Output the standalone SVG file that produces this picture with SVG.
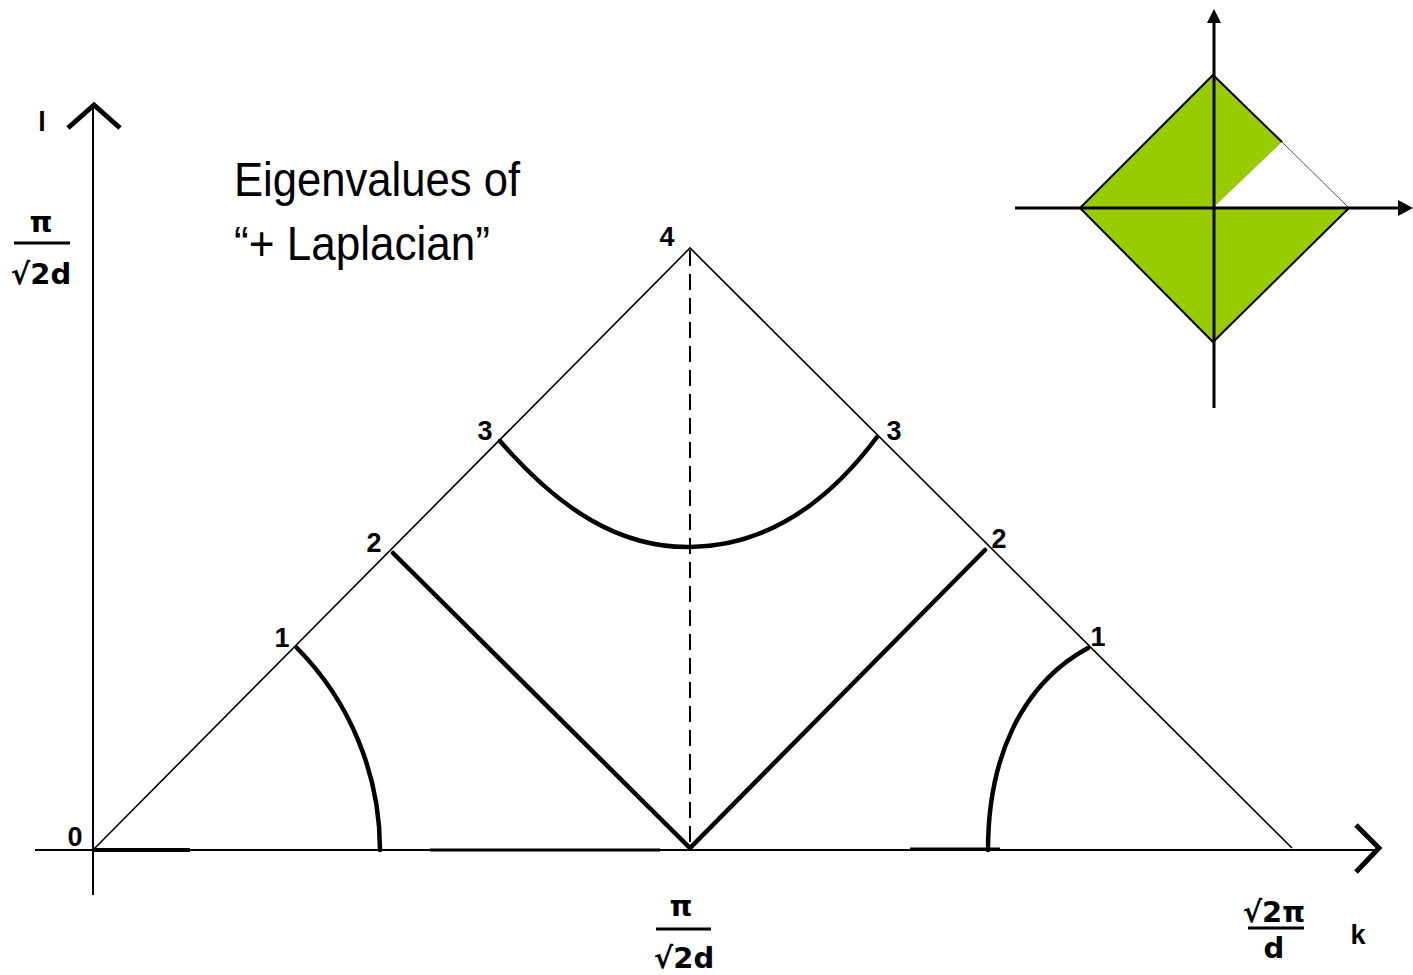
<svg xmlns="http://www.w3.org/2000/svg" width="1413" height="975" viewBox="0 0 1413 975">
<style>
.thin{stroke:#000;stroke-width:1.6;fill:none}
.thick{stroke:#000;stroke-width:4.5;fill:none;stroke-linecap:round}
.ax{stroke:#000;stroke-width:2;fill:none}
.chev{stroke:#000;stroke-width:5;fill:none;stroke-linejoin:miter}
.lbl{font-family:"Liberation Sans",Arial,sans-serif;font-weight:bold;font-size:27px;fill:#000}
.title{font-family:"Liberation Sans",Arial,sans-serif;font-size:48px;fill:#000}
.frac{font-family:"DejaVu Sans",sans-serif;font-weight:bold;font-size:29px;fill:#000}
.g{fill:#99CC00}
</style>
<rect width="1413" height="975" fill="#fff"/>

<g id="axes">
<line class="ax" x1="93" y1="104" x2="93" y2="895"/>
<polyline class="chev" points="68,128 94,105 120,128"/>
<line class="ax" x1="35" y1="850" x2="1378" y2="850"/>
<line stroke="#000" stroke-width="4" x1="93" y1="850" x2="190" y2="850"/>
<line stroke="#000" stroke-width="3" x1="430" y1="850" x2="660" y2="850"/>
<line stroke="#000" stroke-width="3" x1="910" y1="849" x2="1000" y2="849"/>
<polyline class="chev" points="1356,825 1379,848 1356,872"/>
</g>

<g id="connectors">
<polyline class="thin" points="93,850 690,248 1292,848"/>
<line x1="690" y1="250" x2="690" y2="848" stroke="#000" stroke-width="2" stroke-dasharray="16,8"/>
<path class="thick" d="M297,648 A287,287 0 0 1 380,850"/>
<path class="thick" d="M1088,648 C1020,685 988,760 988,850"/>
<path class="thick" d="M393,553 L690,848 L985,550"/>
<path class="thick" d="M500,441 C560,510 620,548 690,547 C770,546 830,500 877,437"/>
</g>

<g id="labels">
<text class="lbl" x="75" y="846" text-anchor="middle">0</text>
<text class="lbl" x="282" y="647" text-anchor="middle">1</text>
<text class="lbl" x="374" y="552" text-anchor="middle">2</text>
<text class="lbl" x="485" y="440" text-anchor="middle">3</text>
<text class="lbl" x="667" y="246" text-anchor="middle">4</text>
<text class="lbl" x="894" y="440" text-anchor="middle">3</text>
<text class="lbl" x="999" y="548" text-anchor="middle">2</text>
<text class="lbl" x="1098" y="646" text-anchor="middle">1</text>
<text class="lbl" x="42" y="131" text-anchor="middle">l</text>
<text class="lbl" x="1358" y="944" text-anchor="middle">k</text>
</g>

<g id="frac-left">
<text class="frac" x="41" y="232" text-anchor="middle">π</text>
<line x1="14" y1="243" x2="70" y2="243" stroke="#000" stroke-width="3"/>
<text class="frac" x="41" y="284" text-anchor="middle">√2d</text>
</g>
<g id="frac-mid">
<text class="frac" x="681" y="916" text-anchor="middle">π</text>
<line x1="656" y1="929" x2="711" y2="929" stroke="#000" stroke-width="3"/>
<text class="frac" x="684" y="968" text-anchor="middle">√2d</text>
</g>
<g id="frac-right">
<text class="frac" x="1274" y="922" text-anchor="middle">√2π</text>
<line x1="1248" y1="928" x2="1304" y2="928" stroke="#000" stroke-width="3"/>
<text class="frac" x="1274" y="958" text-anchor="middle">d</text>
</g>

<g id="title">
<text class="title" x="234" y="196" textLength="286" lengthAdjust="spacingAndGlyphs">Eigenvalues of</text>
<text class="title" x="234" y="260" textLength="256" lengthAdjust="spacingAndGlyphs">“+ Laplacian”</text>
</g>

<g id="inset">
<polygon class="g" points="1213,75 1349,208 1213,342 1080,208"/>
<polygon fill="#fff" points="1213,208 1282,142 1349,208"/>
<polyline points="1282,142 1213,75 1080,208 1213,342 1349,208" fill="none" stroke="#000" stroke-width="2"/>
<line x1="1282" y1="142" x2="1349" y2="208" stroke="#555" stroke-width="1"/>
<line x1="1015" y1="208" x2="1400" y2="208" stroke="#000" stroke-width="3"/>
<polygon points="1398,200 1413,208 1398,216" fill="#000"/>
<line x1="1214" y1="408" x2="1214" y2="22" stroke="#000" stroke-width="3"/>
<polygon points="1207,23 1214,9 1221,23" fill="#000"/>
</g>
</svg>
